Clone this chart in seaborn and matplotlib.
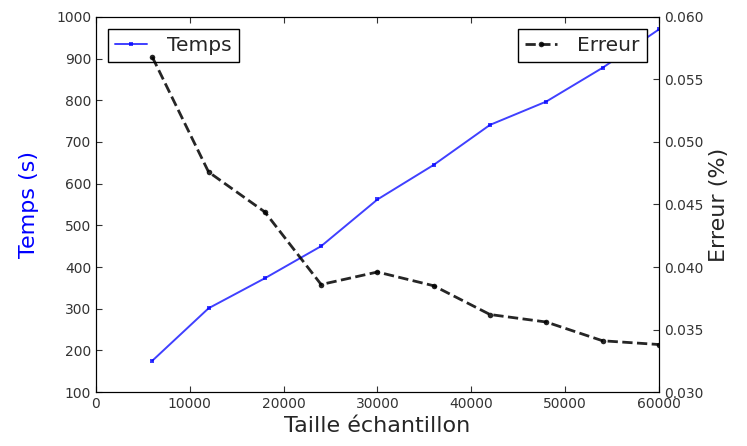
import pandas as pd
import seaborn as sns
import matplotlib.pyplot as plt

# Data
taille = [6000, 12000, 18000, 24000, 30000, 36000, 42000, 48000, 54000, 60000]
temps = [175, 301, 373, 450, 562, 645, 741, 797, 878, 970]
erreur = [0.0568, 0.0476, 0.0444, 0.0386, 0.0396, 0.0385, 0.0362, 0.0356, 0.0341, 0.0338]

df = pd.DataFrame({'taille': taille, 'temps': temps, 'erreur': erreur})

sns.set_style('ticks', {'xtick.direction': 'in', 'ytick.direction': 'in',
                        'axes.edgecolor': 'black'})
plt.rcParams['font.family'] = ['DejaVu Sans']
plt.rcParams['xtick.top'] = True
plt.rcParams['xtick.major.size'] = 4
plt.rcParams['ytick.major.size'] = 4

fig = plt.figure(figsize=(7.47, 4.46), dpi=100)
ax = fig.add_axes([0.1285, 0.121, 0.7535, 0.841])
ax2 = ax.twinx()

sns.lineplot(data=df, x='taille', y='temps', ax=ax, color='blue', marker='s',
             markersize=3.5, markeredgewidth=0, linewidth=1.4, alpha=0.75,
             label='Temps')
sns.lineplot(data=df, x='taille', y='erreur', ax=ax2, color='black', marker='o',
             markersize=4, markeredgewidth=0, linewidth=2, linestyle='--',
             dashes=(4, 3), alpha=0.85, label='Erreur')

ax.set_xlim(0, 60000)
ax.set_ylim(100, 1000)
ax.set_yticks(range(100, 1001, 100))
ax.set_xticks(range(0, 60001, 10000))
ax2.set_ylim(0.030, 0.060)
ax2.set_yticks([0.030, 0.035, 0.040, 0.045, 0.050, 0.055, 0.060])
ax2.set_yticklabels(['%.3f' % v for v in ax2.get_yticks()])

ax.set_xlabel('Taille échantillon', fontsize=16, color='#262626')
ax.set_ylabel('Temps (s)', fontsize=16, color='blue', labelpad=12)
ax2.set_ylabel('Erreur (%)', fontsize=16, color='#262626')

for a in (ax, ax2):
    a.tick_params(labelsize=10, colors='#333333', labelcolor='#333333')
    for s in a.spines.values():
        s.set_visible(True)
        s.set_color('black')

leg_kw = dict(fontsize=14.5, fancybox=False, framealpha=1, edgecolor='black',
              handlelength=1.6, handletextpad=1.0, borderaxespad=0.6,
              borderpad=0.35)
ax.legend(loc='upper left', **leg_kw)
ax2.legend(loc='upper right', **leg_kw)

fig.savefig('out.png', dpi=100)
